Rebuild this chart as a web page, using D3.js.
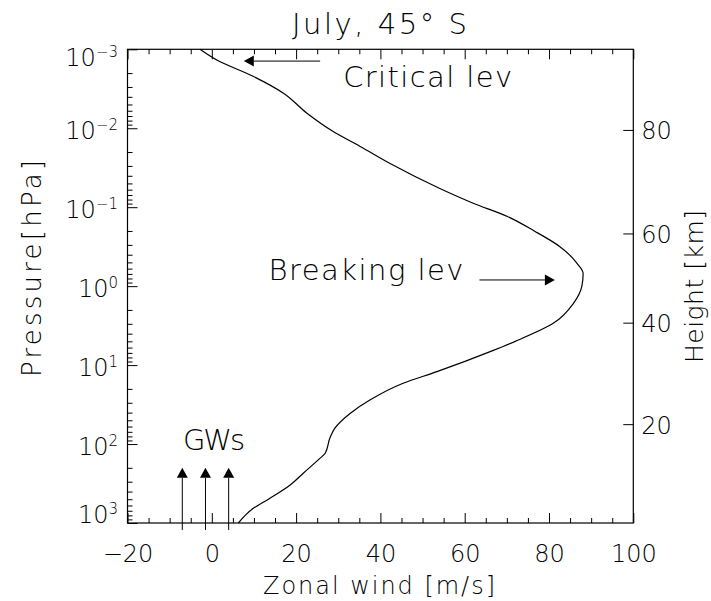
<!DOCTYPE html>
<html>
<head>
<meta charset="utf-8">
<script src="https://cdn.jsdelivr.net/npm/d3@7"></script>
<style>
  body { margin: 0; background: #fff; }
  text { font-family: "DejaVu Sans", sans-serif; font-weight: 200; fill: #000; }
</style>
</head>
<body>
<svg id="chart" width="711" height="601"></svg>
<script>
// Zonal-mean zonal wind profile, July, 45°S (pressure in hPa, wind in m/s)
const windPressure = [0.001, 0.00137, 0.0022, 0.0036, 0.0064, 0.011, 0.017, 0.028, 0.058, 0.089,
  0.13, 0.2, 0.316, 0.51, 0.69, 1.0, 1.65, 2.96, 5.0, 6.6, 12.1, 17, 27.7, 41, 63, 84.5,
  131, 151, 234, 330, 486, 652, 1000];
const windSpeed = [-2.8, 1.2, 9.8, 17.0, 22.5, 28.8, 35.2, 42.3, 54.1, 62.0,
  70.0, 76.5, 82.6, 86.6, 88.1, 87.8, 85.8, 81.0, 72.0, 66.5, 53.4, 45.4, 37.5, 32.8, 29.2, 28.0,
  26.9, 25.7, 21.7, 18.6, 13.8, 9.85, 6.3];

// Axis ticks
const xTicks = [-20, 0, 20, 40, 60, 80, 100];
const xMinorStep = 5;
const pressureExponents = [-3, -2, -1, 0, 1, 2, 3];
const heightLabels = [20, 40, 60, 80];
const heightPressure = [56, 2.9, 0.215, 0.0105];   // standard-atmosphere pressure at each height

// Gravity-wave phase speeds (m/s) launched from the ground
const gwSpeeds = [-7, -1.5, 4];
const gwPressureBottom = 1225, gwPressureTop = 200;

// Annotation arrows: [tail wind, tip wind, pressure]
const criticalArrow = [25.7, 7.6, 0.00141];
const breakingArrow = [63.5, 81.4, 0.835];

const W = 711, H = 601;
const margin = { left: 127.5, right: 77.7, top: 49.3, bottom: 78 };
const svg = d3.select("#chart");

const x = d3.scaleLinear().domain([-20, 100]).range([margin.left, W - margin.right]);
const y = d3.scaleLog().domain([1e-3, 1e3]).range([margin.top, H - margin.bottom]);
const [x0, x1] = x.range();
const [y0, y1] = y.range();

const major = 10, minor = 5;

// ---- Bottom and top axes (inward ticks) ----
const xMinor = d3.range(-20, 100.01, xMinorStep).filter(v => !xTicks.includes(v));
const bottomAxis = svg.append("g").attr("transform", `translate(0,${y1})`)
  .call(d3.axisBottom(x).tickValues(xTicks).tickSizeInner(-major).tickSizeOuter(0)
    .tickFormat(d => d < 0 ? "\u2212" + Math.abs(d) : d));
bottomAxis.select(".domain").remove();
bottomAxis.selectAll("text").attr("y", 39).attr("dy", 0).attr("font-size", 24)
  .attr("font-family", null);
svg.append("g").attr("transform", `translate(0,${y1})`)
  .call(d3.axisBottom(x).tickValues(xMinor).tickSizeInner(-minor).tickSizeOuter(0).tickFormat(""))
  .select(".domain").remove();

const topAxis = svg.append("g").attr("transform", `translate(0,${y0})`)
  .call(d3.axisTop(x).tickValues(xTicks).tickSizeInner(-major).tickSizeOuter(0).tickFormat(""));
topAxis.select(".domain").remove();
svg.append("g").attr("transform", `translate(0,${y0})`)
  .call(d3.axisTop(x).tickValues(xMinor).tickSizeInner(-minor).tickSizeOuter(0).tickFormat(""))
  .select(".domain").remove();

// ---- Left pressure axis (log) ----
const decadeValues = pressureExponents.map(e => Math.pow(10, e));
const logMinor = y.ticks().filter(v => {
  const m = v / Math.pow(10, Math.floor(Math.log10(v) + 1e-9));
  return Math.abs(m - 1) > 1e-6;
});
const leftAxis = svg.append("g").attr("transform", `translate(${x0},0)`)
  .call(d3.axisLeft(y).tickValues(decadeValues).tickSizeInner(-major).tickSizeOuter(0).tickFormat(""));
leftAxis.select(".domain").remove();
svg.append("g").attr("transform", `translate(${x0},0)`)
  .call(d3.axisLeft(y).tickValues(logMinor).tickSizeInner(-minor).tickSizeOuter(0).tickFormat(""))
  .select(".domain").remove();

// Decade labels 10^n, kept inside the vertical extent of the frame
const leftLabels = svg.append("g");
pressureExponents.forEach(e => {
  const ty = y(Math.pow(10, e));
  const base = Math.min(Math.max(ty + 11, y0 + 17), y1);
  const t = leftLabels.append("text").attr("x", 118).attr("y", base)
    .attr("text-anchor", "end").attr("font-size", 24);
  t.append("tspan").text("10");
  t.append("tspan").attr("font-size", 15).attr("dy", -9)
    .text(e < 0 ? "\u2212" + Math.abs(e) : e);
});

// ---- Right height axis ----
const rightAxis = svg.append("g").attr("transform", `translate(${x1},0)`)
  .call(d3.axisRight(y).tickValues(heightPressure).tickSizeInner(-major).tickSizeOuter(0)
    .tickFormat((d, i) => heightLabels[i]));
rightAxis.select(".domain").remove();
rightAxis.selectAll("text").attr("x", 8).attr("dy", 9).attr("font-size", 24)
  .attr("font-family", null);

svg.selectAll(".tick line").attr("stroke", "#000").attr("stroke-width", 1);

// Frame
svg.append("rect").attr("x", x0).attr("y", y0).attr("width", x1 - x0).attr("height", y1 - y0)
  .attr("fill", "none").attr("stroke", "#000").attr("stroke-width", 1.2);

// ---- Wind profile ----
const profile = windPressure.map((p, i) => ({ p, u: windSpeed[i] }));
svg.append("path").datum(profile)
  .attr("fill", "none").attr("stroke", "#000").attr("stroke-width", 1.2)
  .attr("d", d3.line().x(d => x(d.u)).y(d => y(d.p)).curve(d3.curveMonotoneY));

// ---- Arrows ----
function arrow(xa, ya, xb, yb) {
  const len = 10, half = 5.5;
  const ang = Math.atan2(yb - ya, xb - xa);
  const bx = xb - len * Math.cos(ang), by = yb - len * Math.sin(ang);
  svg.append("line").attr("x1", xa).attr("y1", ya).attr("x2", bx).attr("y2", by)
    .attr("stroke", "#000").attr("stroke-width", 1);
  const px = -Math.sin(ang) * half, py = Math.cos(ang) * half;
  svg.append("path")
    .attr("d", `M${xb},${yb}L${bx + px},${by + py}L${bx - px},${by - py}Z`)
    .attr("fill", "#000");
}

const [ct, cp, cpr] = criticalArrow;
arrow(x(ct), y(cpr), x(cp), y(cpr));
svg.append("text").attr("x", x(ct) + 23).attr("y", y(cpr) + 25.5)
  .attr("font-size", 29).attr("textLength", 169).attr("lengthAdjust", "spacing")
  .text("Critical lev");

const [bt, bp, bpr] = breakingArrow;
arrow(x(bt), y(bpr), x(bp), y(bpr));
svg.append("text").attr("x", x(bt) - 211).attr("y", y(bpr))
  .attr("font-size", 29).attr("textLength", 195).attr("lengthAdjust", "spacing")
  .text("Breaking lev");

gwSpeeds.forEach(c => arrow(x(c), y(gwPressureBottom), x(c), y(gwPressureTop)));
svg.append("text").attr("x", 183).attr("y", 450)
  .attr("font-size", 29).attr("textLength", 62).attr("lengthAdjust", "spacing")
  .text("GWs");

// ---- Titles ----
svg.append("text").attr("x", 292).attr("y", 34)
  .attr("font-size", 29).attr("textLength", 175).attr("lengthAdjust", "spacing")
  .text("July, 45\u00b0 S");

svg.append("text").attr("x", 263).attr("y", 594)
  .attr("font-size", 24).attr("textLength", 232).attr("lengthAdjust", "spacing")
  .text("Zonal wind [m/s]");

svg.append("text").attr("transform", "translate(41,377) rotate(-90)")
  .attr("font-size", 26).attr("textLength", 217).attr("lengthAdjust", "spacing")
  .text("Pressure[hPa]");

svg.append("text").attr("transform", "translate(703,363) rotate(-90)")
  .attr("font-size", 25).attr("textLength", 153).attr("lengthAdjust", "spacing")
  .text("Height [km]");
</script>
</body>
</html>
